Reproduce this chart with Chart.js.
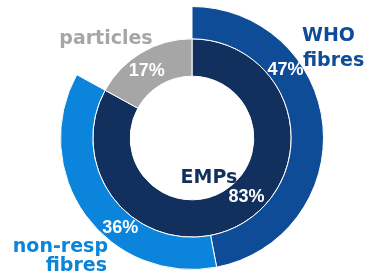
<!DOCTYPE html>
<html>
<head>
<meta charset="utf-8">
<script src="https://cdn.jsdelivr.net/npm/chart.js@4/dist/chart.umd.min.js"></script>
<style>
html,body{margin:0;padding:0;background:#fff;}
#wrap{width:366px;height:276px;position:relative;}
</style>
</head>
<body>
<div id="wrap"><canvas id="c" width="366" height="276"></canvas></div>
<script>
// Outer ring: fibre types (particles share is left empty in the outer ring)
const outerLabels = ['WHO fibres', 'non-resp fibres', 'particles'];
const outerValues = [47, 36, 17];
// Inner ring: EMPs vs particles
const innerLabels = ['EMPs', 'particles'];
const innerValues = [83, 17];

const outerColors = ['#0F4C97', '#0B84DC', 'rgba(0,0,0,0)'];
const innerColors = ['#12305E', '#A6A6A6'];

// percent labels: [datasetIndex, dataIndex, fraction along arc]
const pctLabels = [
  [0, 0, 0.32],
  [0, 1, 0.38],
  [1, 0, 0.46],
  [1, 1, 0.44]
];

const labelPlugin = {
  id: 'labels',
  afterDatasetsDraw(chart) {
    const ctx = chart.ctx;
    ctx.save();
    ctx.textAlign = 'center';
    ctx.textBaseline = 'middle';
    // percentages inside arcs
    ctx.font = 'bold 18px "Liberation Sans", Arial, sans-serif';
    ctx.fillStyle = '#ffffff';
    pctLabels.forEach(([di, i, f]) => {
      const arc = chart.getDatasetMeta(di).data[i];
      const val = chart.data.datasets[di].data[i];
      const a = arc.startAngle + (arc.endAngle - arc.startAngle) * f;
      const r = (arc.innerRadius + arc.outerRadius) / 2;
      ctx.fillText(val + '%', arc.x + Math.cos(a) * r, arc.y + Math.sin(a) * r);
    });
    // category names
    const arc0 = chart.getDatasetMeta(0).data[0];
    const cx = arc0.x, cy = arc0.y;
    ctx.font = 'bold 19px "DejaVu Sans", Verdana, sans-serif';
    ctx.fillStyle = '#A6A6A6';
    ctx.fillText(outerLabels[2], cx - 86, cy - 99);
    ctx.fillStyle = '#0F4C97';
    ctx.textAlign = 'left';
    ctx.fillText('WHO', cx + 110, cy - 102);
    ctx.fillText('fibres', cx + 111, cy - 77);
    ctx.fillStyle = '#0B84DC';
    ctx.textAlign = 'right';
    ctx.fillText('non-resp', cx - 84, cy + 109);
    ctx.fillText('fibres', cx - 85, cy + 128);
    ctx.fillStyle = '#12305E';
    ctx.textAlign = 'center';
    ctx.fillText(innerLabels[0], cx + 17, cy + 40);
    ctx.restore();
  }
};

new Chart(document.getElementById('c'), {
  type: 'doughnut',
  data: {
    labels: outerLabels,
    datasets: [
      {
        data: outerValues,
        backgroundColor: outerColors,
        borderColor: ['#ffffff', '#ffffff', 'rgba(0,0,0,0)'],
        borderWidth: 1,
        weight: 32
      },
      {
        data: innerValues,
        backgroundColor: innerColors,
        borderColor: '#ffffff',
        borderWidth: 1,
        weight: 37
      }
    ]
  },
  options: {
    responsive: false,
    animation: false,
    cutout: '47%',
    layout: { padding: { top: 6, bottom: 6, left: 18, right: 0 } },
    plugins: {
      legend: { display: false },
      tooltip: { enabled: false }
    }
  },
  plugins: [labelPlugin]
});
</script>
</body>
</html>
